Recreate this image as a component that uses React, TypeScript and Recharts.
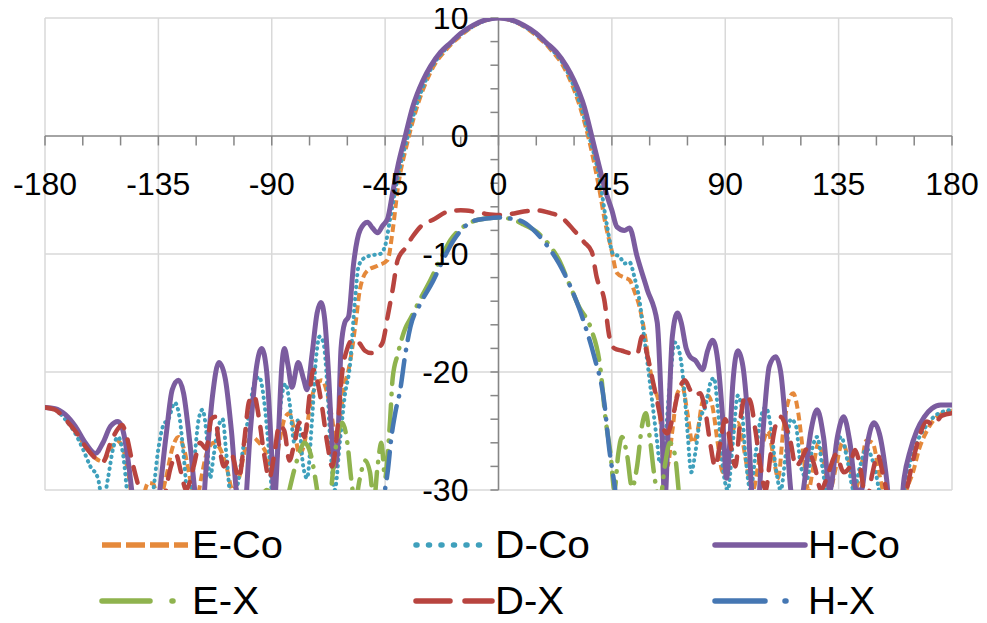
import { LineChart, Line, XAxis, YAxis, CartesianGrid, ReferenceLine } from 'recharts'

// [angle (deg), level (dB)] pairs; values under -30 are clipped
const eCo: [number, number][] = [
  [-180, -23], [-176, -23.1], [-172, -23.8], [-168, -25], [-164, -26.3], [-160, -27.3], [-157, -27.6], [-154, -26.5],
  [-151.5, -25.8], [-149, -26.5], [-147, -28.5], [-145, -31], [-142, -31], [-139, -29.4], [-137, -29.5], [-135, -31],
  [-132, -29], [-129.5, -26.5], [-127, -25.5], [-124.5, -26.8], [-122, -29.5], [-120, -31], [-118, -29], [-116, -27],
  [-113, -26], [-110.5, -26.5], [-108, -28], [-105.5, -30], [-103, -29], [-100.5, -26.5], [-98, -25.5], [-95, -26],
  [-92, -27], [-89.5, -29], [-87, -26], [-85, -24], [-83, -23.5], [-81, -25], [-79, -27], [-77, -26], [-74.5, -22.5],
  [-72, -21], [-70, -20.7], [-68, -21.8], [-66, -24], [-64.5, -26], [-63, -24], [-61, -21], [-59.5, -19.8], [-58, -17.9],
  [-56.5, -15.5], [-55, -13], [-52, -11.4], [-48, -11], [-44, -10.5], [-42, -8], [-40, -4.5], [-36, -0.4], [-33, 2],
  [-27, 5.4], [-20, 7.5], [-15, 8.5], [-10, 9.3], [-5, 9.8], [0, 10], [5, 9.8], [10, 9.3], [15, 8.5], [20, 7.5],
  [27, 5.4], [33, 2], [36, -0.4], [40, -4.5], [42.5, -7.5], [44.6, -9.4], [47, -11.6], [50, -12], [52, -12.2],
  [54, -13.2], [56, -14.5], [58, -16.7], [60, -19.6], [62, -21.5], [63.5, -22.5], [65.5, -27], [67, -28], [69, -25],
  [71, -21.8], [73, -21.3], [75, -23.5], [77, -26], [79, -25], [81, -22.5], [83, -22], [85, -23], [87, -26], [89, -28.5],
  [91, -27], [93, -25], [95, -24.3], [97, -26], [99, -28.5], [101, -30], [103, -28], [105, -26], [107, -25], [109, -27],
  [111, -29], [113, -25], [115, -22.5], [117, -21.8], [119, -23.5], [121, -27], [123, -30], [125, -28], [127, -26],
  [129, -27.5], [131.5, -30], [134, -28], [136.5, -26], [139, -27.5], [141.5, -30], [144, -28], [146, -25.8], [148.5, -26],
  [151, -28.5], [153.5, -31], [156, -33], [159, -33], [162, -30], [164.5, -28.5], [167, -26.5], [170, -25], [173, -24],
  [176.5, -23.5], [180, -23.3],
]

const dCo: [number, number][] = [
  [-180, -23], [-176, -23.2], [-172, -24], [-168, -25.2], [-165, -26.5], [-162, -28], [-159, -29], [-157, -31],
  [-155, -29], [-153, -26.5], [-151, -25.5], [-149, -27], [-147, -31], [-144, -34], [-140, -33], [-137, -30],
  [-135, -26.5], [-133, -24.5], [-131, -24], [-128.5, -22.6], [-126.5, -24], [-125, -27], [-123, -31], [-121, -28],
  [-119, -24], [-117.5, -23.2], [-116, -25], [-114.5, -29], [-113, -27], [-111, -24.5], [-109.5, -24], [-108, -27],
  [-106, -31], [-104, -30], [-101, -26], [-99, -23.5], [-97, -21], [-95, -20.4], [-93, -22.5], [-91, -27], [-89.5, -31],
  [-88, -27], [-86, -22], [-84.5, -21], [-83, -22.5], [-81, -26], [-79.5, -24], [-77.5, -28], [-76, -29], [-74, -24],
  [-72.5, -19], [-71, -17], [-69.5, -17.5], [-68, -21], [-66.5, -27], [-65, -30], [-63, -26], [-61, -22], [-59, -19.5],
  [-57, -14], [-55.5, -11], [-53, -10.3], [-50, -10.1], [-47, -10], [-45, -9.3], [-43, -7], [-40, -3.5], [-36, 0],
  [-33, 2.3], [-27, 5.6], [-20, 7.6], [-15, 8.6], [-10, 9.3], [-5, 9.8], [0, 10], [5, 9.8], [10, 9.3], [15, 8.6],
  [20, 7.6], [27, 5.6], [33, 2.3], [36, 0], [40, -3.5], [43, -7.5], [45.5, -10], [48, -10.2], [50, -10.8], [52, -10.7],
  [54, -12], [56, -14], [57.5, -16.5], [59, -19], [61, -22.5], [63, -26], [64, -27.7], [66, -26], [68, -21], [70, -17.5],
  [72, -18.5], [73.5, -21], [75, -25], [76.5, -28.5], [78, -27], [80, -24], [82, -23], [84, -21], [85.5, -20.5],
  [87, -23], [89, -28], [91, -30], [93, -26], [95, -22], [96.5, -23], [98, -27], [100, -30], [102, -27], [104, -24],
  [106, -23], [108, -24.5], [110, -28], [112, -30], [114, -27], [116, -24], [118, -24.5], [120, -28], [122.5, -29],
  [124.5, -26.5], [126.5, -25.5], [128.5, -28], [131, -31], [133.5, -27], [136, -25.5], [138.5, -27.5], [141, -30],
  [143.5, -28], [146, -26.5], [148.5, -27.5], [151, -30], [153, -33], [157, -33], [160, -31], [163, -28], [166, -26],
  [170, -24.5], [174, -23.6], [180, -23.2],
]

const hCo: [number, number][] = [
  [-180, -23], [-176, -23.1], [-172, -23.6], [-168, -24.6], [-164, -26], [-160, -26.9], [-157, -26], [-154, -24.6],
  [-151, -24.2], [-149, -25], [-147, -27.5], [-145, -31], [-142, -34], [-138, -34], [-135, -31], [-132, -25.5],
  [-129.5, -21.5], [-127, -20.7], [-125, -21.8], [-122.5, -26], [-120, -31], [-118, -33], [-116, -28], [-113.5, -22],
  [-111, -19.2], [-108.5, -20.5], [-106, -25], [-103.5, -31], [-101, -32], [-98.5, -25], [-96, -19.5], [-94, -18],
  [-92, -20], [-90, -27], [-89, -31], [-87.5, -26], [-86, -19.5], [-85, -18], [-83.5, -19.5], [-82, -21.3],
  [-79.5, -19.2], [-77.5, -20.5], [-76, -21.5], [-74, -18.5], [-72, -15], [-70.5, -14.1], [-69, -15.5], [-67.5, -20],
  [-66, -26], [-65, -28], [-64, -27], [-62.5, -18], [-61, -15.8], [-59.5, -15.3], [-57.5, -10.8], [-55, -8],
  [-52, -7.3], [-50, -7.8], [-48, -8.2], [-46, -7.6], [-44, -7], [-42, -4.8], [-40, -2.6], [-37, 0], [-34, 2.5],
  [-30, 4.7], [-27, 5.9], [-23, 7.1], [-19, 7.9], [-15, 8.7], [-10, 9.4], [-5, 9.85], [0, 10], [5, 9.85], [10, 9.4],
  [15, 8.7], [19, 7.9], [23, 7.1], [27, 5.9], [30, 4.7], [34, 2.5], [37, 0], [40, -2.6], [42.4, -4.6], [45, -6.3],
  [47, -7.7], [50, -8], [52, -7.8], [55, -10.2], [59, -13], [63, -15.8], [64.5, -22], [66, -31], [67.5, -24], [69, -17],
  [71, -15], [72.5, -15.8], [74.5, -18], [76, -18.7], [78, -19], [81, -19.8], [83, -18.2], [85, -17.3], [87, -19],
  [89, -24], [90.5, -29], [91.5, -27], [93, -21], [95, -18.2], [97, -19.5], [99, -24], [101, -31], [103, -31],
  [105, -25], [107.5, -19.5], [110, -18.7], [112, -20], [114, -24.5], [116, -30], [118.5, -33], [121, -30], [124, -25],
  [126.5, -23.2], [129, -25.5], [131.5, -30], [134.5, -25.5], [137, -23.8], [139.5, -26], [142, -30], [144, -30],
  [146.5, -26], [149, -24.3], [151.5, -25.5], [154, -29], [156, -33], [159, -33], [161, -29], [163.5, -26.6],
  [166, -25], [169, -23.8], [172, -23.1], [175.5, -22.8], [180, -22.8],
]

const eX: [number, number][] = [
  [-180, -36], [-150, -36], [-120, -36], [-100, -33], [-95, -31], [-92, -30], [-89, -31], [-86, -33], [-83, -30],
  [-80, -27.5], [-77, -26], [-74.5, -27], [-72, -30], [-70, -33], [-67, -31], [-65, -27], [-62, -24.3], [-60, -26],
  [-58.5, -29], [-57, -31], [-55, -29], [-53, -27.5], [-51, -28.5], [-49.5, -31], [-48, -28], [-46.5, -26], [-45, -29],
  [-44, -27], [-43, -24], [-42, -20.5], [-40, -18.5], [-37, -16.3], [-35, -15.5], [-31, -13.8], [-27, -12.2],
  [-23, -10.4], [-19, -8.8], [-14, -7.7], [-8, -7.1], [0, -6.9], [6, -7.1], [10, -7.5], [15, -8.1], [20, -9.2],
  [24, -10.5], [28, -12.5], [32, -14.5], [36.5, -16.2], [40.5, -19.8], [42.5, -24], [44.5, -27], [46, -30],
  [47.5, -27], [49, -25.5], [51, -27], [53, -29.8], [55, -28], [57, -24.5], [58.5, -23.5], [60, -25.5], [62, -29],
  [64, -31], [66, -28], [68, -26], [70, -27], [72, -31], [76, -34], [90, -36], [120, -36], [180, -36],
]

const dX: [number, number][] = [
  [-180, -23], [-176, -23.2], [-172, -24], [-168, -25], [-164, -26.3], [-160, -27.3], [-157, -27.6], [-154, -26],
  [-151, -24.8], [-149.5, -24.5], [-147.5, -25.5], [-145.5, -27.5], [-143.5, -29.2], [-141, -31], [-137, -33],
  [-133, -31], [-130, -28], [-128, -27], [-126, -28.5], [-124, -30], [-121, -28], [-118.5, -26], [-116, -26.5],
  [-114, -24], [-112.5, -23.8], [-111, -26], [-109, -28], [-106, -27], [-103, -29], [-101, -26], [-99, -22.5],
  [-97, -22], [-95, -24], [-93, -27], [-91, -29], [-89, -27], [-87, -24.5], [-85, -25], [-83, -27.5], [-81, -26],
  [-79, -24.3], [-77, -25.5], [-75, -22], [-73.5, -19.8], [-72, -20.7], [-70, -23], [-68, -26], [-66, -28], [-64, -25],
  [-62, -20], [-60, -18], [-58, -17.3], [-55.5, -17.5], [-53, -18.2], [-50.5, -18.4], [-48, -18], [-46, -17.5],
  [-44, -15.3], [-42, -13], [-40, -10.5], [-37, -9.5], [-34, -8.5], [-30, -7.5], [-26, -7.1], [-20, -6.4],
  [-15, -6.3], [-10, -6.4], [-5, -6.6], [0, -6.7], [5, -6.6], [10, -6.4], [15, -6.3], [20, -6.5], [25, -6.9],
  [30, -8], [34, -9], [37, -9.8], [39, -12], [42, -13.9], [44, -17], [46, -18], [49, -18.2], [52, -18.4], [55, -18.5],
  [57, -17], [59, -18.5], [61, -20.5], [63, -22.5], [65, -24.5], [67, -25.2], [69, -24], [71, -22], [74, -20.7],
  [76, -21.5], [78, -22], [80, -21.8], [82, -23.2], [84, -26], [86, -28], [88, -26], [90, -24], [92, -26], [94, -28],
  [96, -24], [98, -22], [100, -22.5], [102, -25], [104, -28], [106, -30], [108, -27], [110, -24.5], [112, -23.8],
  [114, -24.6], [116, -26], [118, -28], [120, -27.5], [122.5, -26.5], [125.5, -28], [128, -30], [131, -28.5],
  [134, -27], [137, -28.5], [139.5, -28], [141.5, -26.6], [143.5, -28], [146, -31], [148.5, -28.5], [150.5, -27],
  [152.5, -28.6], [155, -31], [158, -33], [161, -31], [164, -28], [167, -25.5], [170, -24.2], [172.5, -24.5],
  [176, -23.7], [180, -23.5],
]

const hX: [number, number][] = [
  [-180, -38], [-60, -38], [-50, -34], [-46, -31], [-44, -28.5], [-42.5, -25.5], [-41, -23.5], [-39, -21.5],
  [-37, -18.5], [-35, -16.2], [-31, -14.2], [-26, -12.3], [-22, -10.5], [-18, -8.9], [-14, -7.8], [-10, -7.2],
  [-5, -7], [0, -6.9], [5, -7], [10, -7.3], [15, -8.2], [19, -9.2], [24, -10.8], [28, -12.5], [32, -14.6],
  [35, -16.5], [38, -18.7], [42, -22.6], [44, -26.6], [46, -29.5], [48, -33], [55, -38], [180, -38],
]

const xGrid = [-180, -135, -90, -45, 0, 45, 90, 135, 180]
const yGrid = [-30, -20, -10, 10]
const xTickMarks = [-180, -165, -150, -135, -120, -105, -90, -75, -60, -45, -30, -15, 0, 15, 30, 45, 60, 75, 90, 105, 120, 135, 150, 165, 180]
const yTickMarks = [-30, -28, -26, -24, -22, -20, -18, -16, -14, -12, -10, -8, -6, -4, -2, 0, 2, 4, 6, 8, 10]
const xLabels = [-180, -135, -90, -45, 0, 45, 90, 135, 180]
const yLabels = [-30, -20, -10, 0, 10]

const series = [
  { name: 'E-Co', data: eCo, color: '#E5893B', width: 4, dash: '8 4', cap: 'butt', key: '19 5' },
  { name: 'D-Co', data: dCo, color: '#3FA0BC', width: 4, dash: '0.5 5.5', cap: 'round', key: '1 11.5' },
  { name: 'H-Co', data: hCo, color: '#7B5C9F', width: 5, dash: undefined, cap: 'round', key: undefined },
  { name: 'E-X', data: eX, color: '#8FB34E', width: 4.5, dash: '26 10 0.5 10', cap: 'round', key: '48 22 1 60' },
  { name: 'D-X', data: dX, color: '#B8443F', width: 4.5, dash: '16 12', cap: 'round', key: '34 15' },
  { name: 'H-X', data: hX, color: '#4577B3', width: 4.5, dash: '26 10 0.5 10', cap: 'round', key: '50 20 1 60' },
]

const toPoints = (pts: [number, number][]) => pts.map(([angle, db]) => ({ angle, db }))

const FONT = '"Liberation Sans", Arial, sans-serif'
const AXIS = '#868686'

function LegendBox() {
  const cols = [102, 416, 715]
  const rows = [545, 601]
  const textX = [192, 495, 808]
  const textW = [91, 95, 92, 67, 69, 67]
  const lineLen = [86, 74, 90, 72, 76, 72]
  return (
    <svg width={987} height={623} style={{ position: 'absolute', left: 0, top: 0, pointerEvents: 'none' }}>
      {series.map((s, i) => {
        const c = i % 3
        const y = rows[Math.floor(i / 3)]
        return (
          <g key={s.name}>
            <line x1={cols[c]} y1={y} x2={cols[c] + lineLen[i]} y2={y} stroke={s.color} strokeWidth={5.5}
              strokeDasharray={s.key} strokeLinecap={s.cap as any} />
            <text x={textX[c]} y={y + 13} fontSize={38} fontFamily={FONT} fill="#000"
              textLength={textW[i]} lengthAdjust="spacingAndGlyphs">{s.name}</text>
          </g>
        )
      })}
    </svg>
  )
}

export default function App() {
  return (
    <div style={{ position: 'relative', width: 987, height: 623, margin: '-8px 0 0 -8px', fontFamily: FONT }}>
      <LineChart width={987} height={623} margin={{ top: 18, right: 35, bottom: 133, left: 45 }}>
        <CartesianGrid stroke="#D9D9D9" strokeWidth={1.5} horizontalValues={yGrid} verticalValues={xGrid} />
        <XAxis dataKey="angle" type="number" domain={[-180, 180]} allowDataOverflow hide />
        <YAxis type="number" domain={[-30, 10]} allowDataOverflow hide />
        <ReferenceLine y={0} stroke={AXIS} strokeWidth={1.5} />
        <ReferenceLine x={0} stroke={AXIS} strokeWidth={1.5} />
        {xTickMarks.map((v) => (
          <ReferenceLine key={`xt${v}`} segment={[{ x: v, y: 0 }, { x: v, y: -0.8 }]} stroke={AXIS} strokeWidth={1.5}
            label={xLabels.includes(v) ? { value: String(v), position: 'bottom', offset: 27, fontSize: 32, fill: '#000', fontFamily: FONT } : undefined} />
        ))}
        {yTickMarks.map((v) => (
          <ReferenceLine key={`yt${v}`} segment={[{ x: -3.2, y: v }, { x: 0, y: v }]} stroke={AXIS} strokeWidth={1.5}
            label={yLabels.includes(v) ? { value: String(v), position: 'left', offset: 22, fontSize: 32, fill: '#000', fontFamily: FONT } : undefined} />
        ))}
        {series.map((s) => (
          <Line key={s.name} data={toPoints(s.data)} dataKey="db" name={s.name} type="monotone" stroke={s.color}
            strokeWidth={s.width} strokeDasharray={s.dash} strokeLinecap={s.cap as any} dot={false}
            activeDot={false} isAnimationActive={false} />
        ))}
      </LineChart>
      <LegendBox />
    </div>
  )
}
